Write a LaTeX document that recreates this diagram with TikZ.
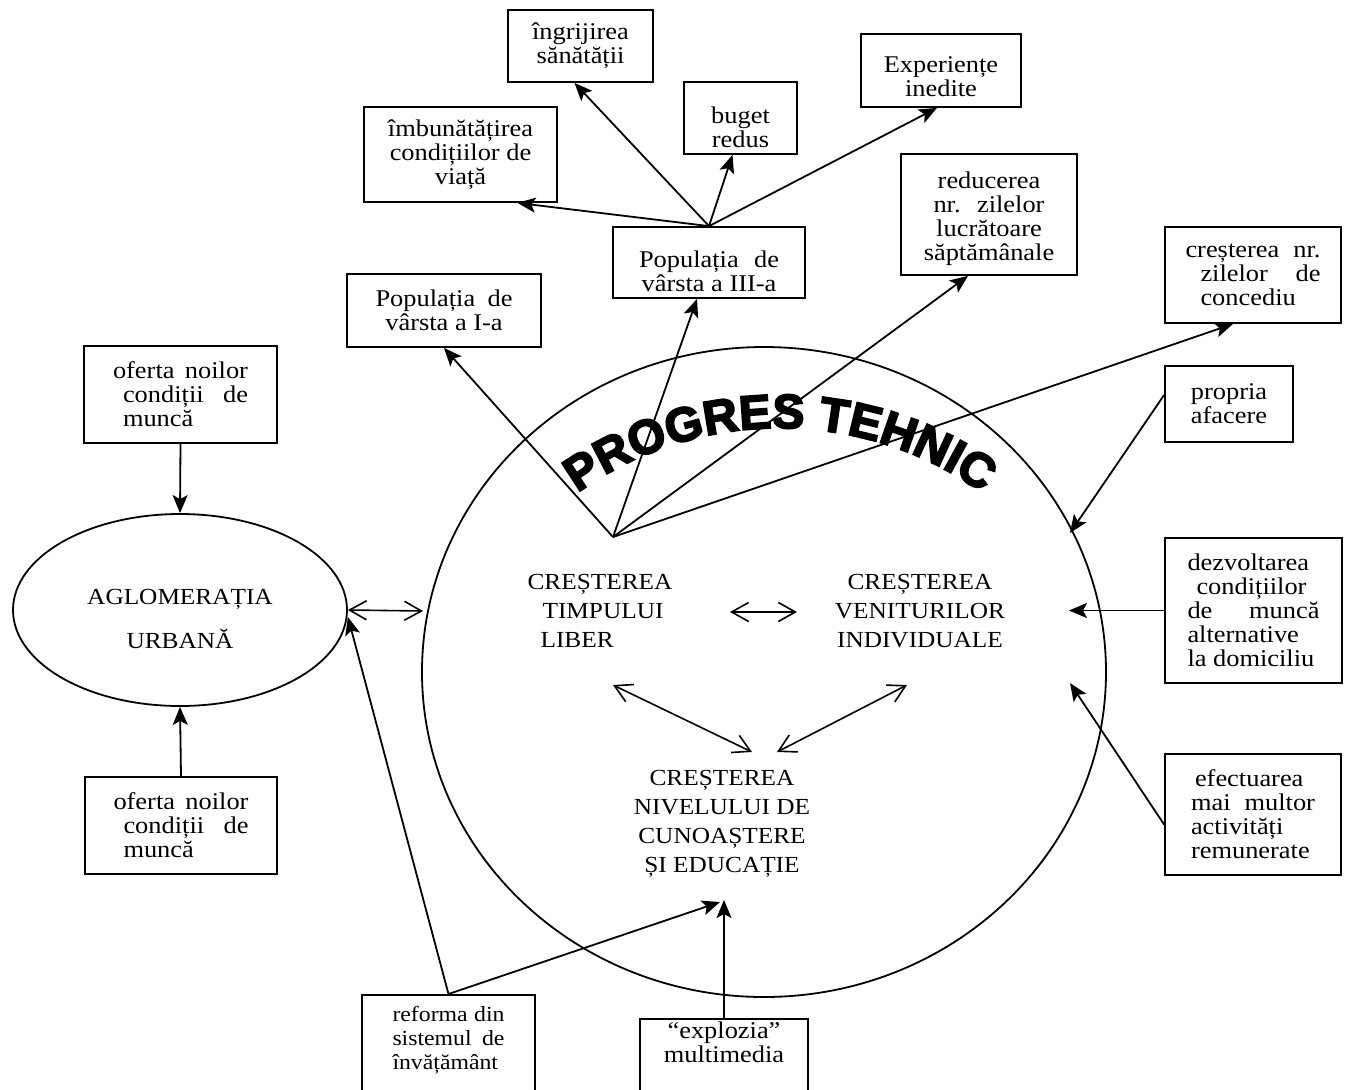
\documentclass[tikz,border=0pt]{standalone}
\usepackage{fontspec}
\setmainfont{Liberation Serif}[FakeStretch=1.1]
\newfontfamily\progfont{Liberation Sans}[BoldFeatures={FakeBold=4}]
\usetikzlibrary{arrows.meta,shapes.geometric,decorations.text,positioning}
\newcommand{\boxfont}{\fontsize{12}{12}\selectfont}
\newcommand{\smallboxfont}{\fontsize{10.8}{12}\selectfont}
\newcommand{\midfont}{\fontsize{11.5}{14.5}\selectfont}
\newcommand{\spr}[2]{\makebox[#1][s]{#2}}
\newcommand{\dn}[1]{\rule{0pt}{#1}}

\begin{document}
\begin{tikzpicture}[x=0.5pt,y=-0.5pt,
  box/.style={draw, line width=0.9pt, inner sep=0pt, align=center, font=\boxfont},
  sz/.style 2 args={minimum width=#1*0.5pt, minimum height=#2*0.5pt},
  txt/.style={inner sep=0pt, font=\midfont},
  arr/.style={line width=0.9pt, -{Stealth[length=9pt,width=7.5pt,inset=2pt]}},
  dbl/.style={line width=0.8pt, {Straight Barb[length=8.5pt,width=9.5pt]}-{Straight Barb[length=8.5pt,width=9.5pt]}}]
\useasboundingbox (0,0) rectangle (1351,1089);
\clip (0,0) rectangle (1351,1089);

%Shape: Ellipse [progres tehnic]
\draw[line width=0.9pt] (764,672) ellipse [x radius=342, y radius=325];
% Text along arc
\path[decorate, decoration={text along path, text align=center,
  text={|\progfont\bfseries\fontsize{24}{24}\selectfont|PROGRES TEHNIC}}]
  (556.3,509.4) arc[start angle=130, end angle=50, radius=174pt];

% Text Node (boxes on top)
\node[box, sz={145}{72}] (ingr) at (580.5,46) {îngrijirea\\sănătății};
\node[box, sz={193}{95}] (imbun) at (460.5,154.5) {îmbunătățirea\\condițiilor de\\viață};
\node[box, sz={113}{72}] (buget) at (740.5,118) {\dn{18pt}buget\\redus};
\node[box, sz={160}{73}] (exper) at (941,70.5) {\dn{14.4pt}Experiențe\\inedite};
\node[box, sz={192}{71}] (pop3) at (709,262.5) {\dn{16.7pt}\spr{70pt}{Populația de}\\vârsta a III-a};
\node[box, sz={176}{121}] (reduc) at (989,214.5) {\dn{12.6pt}reducerea\\\spr{55.5pt}{nr. zilelor}\\lucrătoare\\săptămânale};
\node[box, sz={176}{96}, align=left] (conced) at (1253,275) {\spr{67.5pt}{creșterea nr.}\\\hspace*{7.5pt}\spr{60pt}{zilelor de}\\\hspace*{7.5pt}concediu};
\node[box, sz={194}{73}] (pop1) at (444,310.5) {\spr{68.5pt}{Populația de}\\vârsta a I-a};

% Text Node (left side)
\node[box, sz={193}{97}, align=left] (oftop) at (180.5,394.5) {\spr{67.5pt}{oferta noilor}\\\hspace*{5pt}\spr{62.5pt}{condiții de}\\\hspace*{5pt}muncă};
\node[box, sz={192}{97}, align=left] (ofbot) at (181,825.5) {\spr{67.5pt}{oferta noilor}\\\hspace*{5pt}\spr{62.5pt}{condiții de}\\\hspace*{5pt}muncă};
\node[ellipse, draw, line width=0.9pt, minimum width=167pt, minimum height=96pt, inner sep=0pt] (aglom) at (180,610) {};
\node[txt, align=center] (aglomtxt) at ([yshift=-4.5pt]aglom.center) {AGLOMERAȚIA\\[7.5pt]URBANĂ};

% Text Node (right side)
\node[box, sz={128}{76}] (prop) at (1229,404) {propria\\afacere};
\node[box, sz={177}{145}, align=left] (dezv) at (1253.5,610.5) {dezvoltarea\\\hspace*{4.5pt}condițiilor\\\spr{66pt}{de muncă}\\alternative\\la domiciliu};
\node[box, sz={176}{121}, align=left] (efect) at (1253,814.5) {\hspace*{2pt}efectuarea\\\spr{62pt}{mai multor}\\activități\\remunerate};

% Text Node (bottom)
\node[box, font=\smallboxfont, minimum width=86.5pt, inner ysep=5.5pt, anchor=north, align=left] (reform) at (448.5,994) {\spr{56pt}{reforma din}\\\spr{56pt}{sistemul de}\\învățământ\\[40pt]\mbox{}};
\node[box, minimum width=84pt, inner ysep=1.5pt, anchor=north] (explo) at (724,1018) {“explozia”\\multimedia\\[40pt]\mbox{}};

% Text Node (inside ellipse)
\node[txt, align=left] (timp) at (600,611) {CREȘTEREA\\\hspace*{7.5pt}TIMPULUI\\\hspace*{6.5pt}LIBER};
\node[txt, align=center] (venit) at (920,611) {CREȘTEREA\\VENITURILOR\\INDIVIDUALE};
\node[txt, align=center] (edu) at (722,823.5) {CREȘTEREA\\NIVELULUI DE\\CUNOAȘTERE\\ȘI EDUCAȚIE};

% free ends
\coordinate (apex) at (613,537);
\coordinate (afacTip) at (1070,533);
\coordinate (dezvTip) at (1069,610.5);
\coordinate (efectTip) at (1070,683);
\coordinate (cercTip) at (423,611);
\coordinate (reformTip) at (720,902);
\coordinate (exploTip) at (724,900);

%Straight Lines (fan from free time)
\draw[arr] (apex) -- (pop1.south);
\draw[arr] (apex) -- ([xshift=-6pt]pop3.south);
\draw[arr] (apex) -- ([xshift=-10.5pt]reduc.south);
\draw[arr] (apex) -- ([xshift=-10pt]conced.south);
%Straight Lines (fan from third age)
\draw[arr] (pop3.north) -- ([xshift=28.5pt]imbun.south);
\draw[arr] (pop3.north) -- ([xshift=-3pt]ingr.south);
\draw[arr] (pop3.north) -- ([xshift=-4pt]buget.south);
\draw[arr] (pop3.north) -- ([xshift=-2pt]exper.south);

%Straight Lines (right side)
\draw[arr] ([yshift=4.5pt]prop.west) -- (afacTip);
\draw[arr] (dezv.west) -- (dezvTip);
\draw[arr] ([yshift=-5pt]efect.west) -- (efectTip);

%Straight Lines (left side)
\draw[arr] (oftop.south) -- (aglom.north);
\draw[arr] (ofbot.north) -- (aglom.south);
\draw[dbl] (aglom.east) -- (cercTip);

%Straight Lines (bottom)
\draw[arr] (reform.north) -- ([yshift=-3.5pt]aglom.east);
\draw[arr] (reform.north) -- (reformTip);
\draw[arr] (explo.north) -- (exploTip);

%Straight Lines (double arrows inside)
\draw[dbl] ([shift={(130,1)}]timp.center) -- ([shift={(-123,1)}]venit.center);
\draw[dbl] ([shift={(13,74)}]timp.center) -- ([shift={(30,-71.5)}]edu.center);
\draw[dbl] ([shift={(-13,74)}]venit.center) -- ([shift={(55,-71.5)}]edu.center);

\end{tikzpicture}
\end{document}
